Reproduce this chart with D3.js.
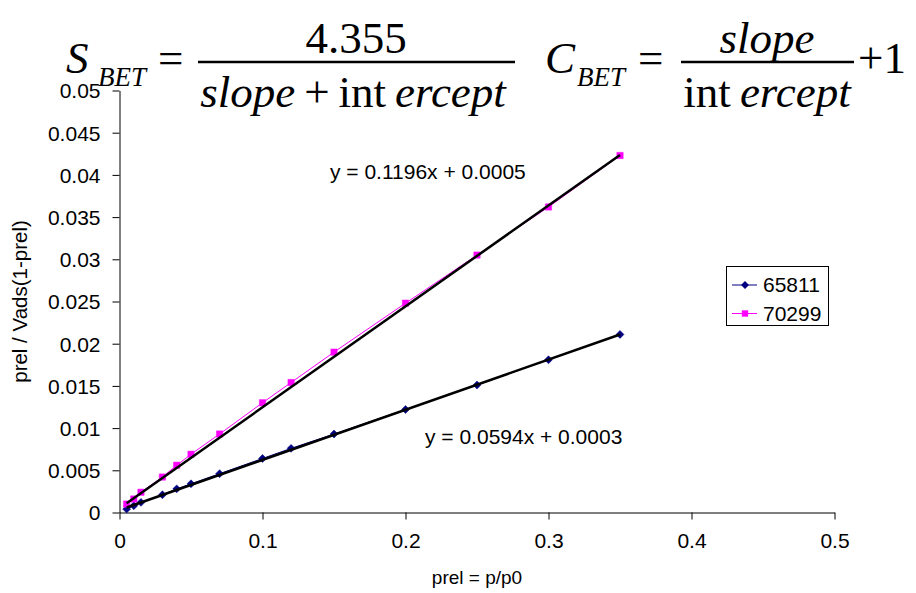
<!DOCTYPE html>
<html>
<head>
<meta charset="utf-8">
<script src="https://cdn.jsdelivr.net/npm/d3@7"></script>
<style>
  html, body { margin: 0; padding: 0; background: #fff; }
  svg { display: block; }
</style>
</head>
<body>
<svg id="chart" width="916" height="593"></svg>
<script>
// ---- data ----
const seriesNames = ["65811", "70299"];
const xValues = [0.005, 0.01, 0.015, 0.03, 0.04, 0.05, 0.07, 0.1, 0.12, 0.15, 0.2, 0.25, 0.3, 0.35];
const values65811 = [0.0004, 0.0008, 0.0012, 0.0021, 0.0028, 0.0034, 0.0046, 0.0064, 0.0076, 0.0093, 0.0122, 0.0151, 0.0181, 0.0211];
const values70299 = [0.0010, 0.0016, 0.0024, 0.0042, 0.0056, 0.0069, 0.0093, 0.0130, 0.0154, 0.0190, 0.0248, 0.0305, 0.0362, 0.0423];
const trendSlopes = [0.0594, 0.1196];
const trendIntercepts = [0.0003, 0.0005];
const trendLabels = ["y = 0.0594x + 0.0003", "y = 0.1196x + 0.0005"];
const xTickValues = [0, 0.1, 0.2, 0.3, 0.4, 0.5];
const xTickLabels = ["0", "0.1", "0.2", "0.3", "0.4", "0.5"];
const yTickValues = [0, 0.005, 0.01, 0.015, 0.02, 0.025, 0.03, 0.035, 0.04, 0.045, 0.05];
const yTickLabels = ["0", "0.005", "0.01", "0.015", "0.02", "0.025", "0.03", "0.035", "0.04", "0.045", "0.05"];
const seriesColors = ["#000080", "#FF00FF"];
const xTitle = "prel = p/p0";
const yTitle = "prel / Vads(1-prel)";

// ---- layout ----
const svg = d3.select("#chart");
const sans = "'Liberation Sans', Arial, sans-serif";
const serif = "'Liberation Serif', 'Times New Roman', serif";
const x = d3.scaleLinear().domain([0, 0.5]).range([119.5, 834.5]);
const y = d3.scaleLinear().domain([0, 0.05]).range([512.5, 90.5]);
const labelSize = 21;

// axes
const xAxis = d3.axisBottom(x).tickValues(xTickValues)
  .tickFormat((d, i) => xTickLabels[i]).tickSizeInner(7).tickSizeOuter(0).tickPadding(14);
const yAxis = d3.axisLeft(y).tickValues(yTickValues)
  .tickFormat((d, i) => yTickLabels[i]).tickSizeInner(7).tickSizeOuter(0).tickPadding(12);

const gx = svg.append("g").attr("transform", `translate(0,${y(0)})`).call(xAxis);
const gy = svg.append("g").attr("transform", `translate(${x(0)},0)`).call(yAxis);
[gx, gy].forEach(g => {
  g.select(".domain").attr("stroke", "#000").attr("stroke-width", 1);
  g.selectAll(".tick line").attr("stroke", "#000").attr("stroke-width", 1);
  g.selectAll(".tick text").attr("fill", "#000").attr("font-family", sans).attr("font-size", labelSize);
});
gx.selectAll(".tick text").attr("dy", "0.71em");
gy.selectAll(".tick text").attr("dy", "0.35em");

// axis titles
svg.append("text").attr("x", (x(0) + x(0.5)) / 2).attr("y", 584)
  .attr("text-anchor", "middle").attr("font-family", sans).attr("font-size", 19)
  .text(xTitle);
svg.append("text")
  .attr("transform", `translate(27,${(y(0) + y(0.05)) / 2}) rotate(-90)`)
  .attr("text-anchor", "middle").attr("font-family", sans).attr("font-size", 20.5)
  .text(yTitle);

// series
const seriesData = [values65811, values70299];
const lineGen = d3.line().x(d => x(d[0])).y(d => y(d[1]));
seriesData.forEach((vals, si) => {
  const pts = xValues.map((xv, i) => [xv, vals[i]]);
  svg.append("path").datum(pts).attr("d", lineGen)
    .attr("fill", "none").attr("stroke", seriesColors[si]).attr("stroke-width", 1);
});
// markers
const diamond = d3.symbol().type(d3.symbolDiamond2).size(40);
const square = d3.symbol().type(d3.symbolSquare).size(40);
seriesData.forEach((vals, si) => {
  svg.append("g").selectAll("path").data(xValues.map((xv, i) => [xv, vals[i]]))
    .join("path")
    .attr("transform", d => `translate(${x(d[0])},${y(d[1])})`)
    .attr("d", si === 0 ? diamond : square)
    .attr("fill", seriesColors[si]).attr("stroke", seriesColors[si]).attr("stroke-width", 0.5);
});
// trendlines
const xMin = d3.min(xValues), xMax = d3.max(xValues);
trendSlopes.forEach((m, i) => {
  const b = trendIntercepts[i];
  svg.append("line")
    .attr("x1", x(xMin)).attr("y1", y(m * xMin + b))
    .attr("x2", x(xMax)).attr("y2", y(m * xMax + b))
    .attr("stroke", "#000").attr("stroke-width", 2.5);
});
// trendline labels
svg.append("text").attr("x", 425).attr("y", 437).attr("dy", "0.35em").attr("font-family", sans).attr("font-size", labelSize)
  .text(trendLabels[0]);
svg.append("text").attr("x", 330).attr("y", 172).attr("dy", "0.35em").attr("font-family", sans).attr("font-size", labelSize)
  .text(trendLabels[1]);

// legend
const lg = svg.append("g");
lg.append("rect").attr("x", 726.5).attr("y", 266.5).attr("width", 102).attr("height", 59)
  .attr("fill", "#fff").attr("stroke", "#000").attr("stroke-width", 1);
seriesNames.forEach((name, i) => {
  const cy = 285 + i * 28.5;
  lg.append("line").attr("x1", 732).attr("x2", 757).attr("y1", cy).attr("y2", cy)
    .attr("stroke", seriesColors[i]).attr("stroke-width", 1);
  lg.append("path").attr("transform", `translate(745,${cy})`)
    .attr("d", i === 0 ? diamond : square).attr("fill", seriesColors[i]);
  lg.append("text").attr("x", 763).attr("y", cy).attr("dy", "0.35em")
    .attr("font-family", sans).attr("font-size", labelSize).text(name);
});

// formulas
const f = svg.append("g").attr("font-family", serif).attr("font-size", 45).attr("fill", "#000");
// S_BET
f.append("text").attr("x", 66).attr("y", 73).attr("font-style", "italic").text("S");
f.append("text").attr("x", 98).attr("y", 86).attr("font-style", "italic").attr("font-size", 27).text("BET");
f.append("text").attr("x", 158).attr("y", 73).text("=");
f.append("line").attr("x1", 198).attr("x2", 515).attr("y1", 62).attr("y2", 62)
  .attr("stroke", "#000").attr("stroke-width", 2.5);
f.append("text").attr("x", 356).attr("y", 53).attr("text-anchor", "middle").text("4.355");
const den = f.append("text").attr("x", 353).attr("y", 107).attr("text-anchor", "middle");
den.append("tspan").attr("font-style", "italic").text("slope");
den.append("tspan").text("\u2009+\u2009int\u2009");
den.append("tspan").attr("font-style", "italic").text("ercept");
// C_BET
f.append("text").attr("x", 545).attr("y", 73).attr("font-style", "italic").text("C");
f.append("text").attr("x", 577).attr("y", 86).attr("font-style", "italic").attr("font-size", 27).text("BET");
f.append("text").attr("x", 638).attr("y", 73).text("=");
f.append("line").attr("x1", 681).attr("x2", 854).attr("y1", 62).attr("y2", 62)
  .attr("stroke", "#000").attr("stroke-width", 2.5);
f.append("text").attr("x", 767).attr("y", 53).attr("text-anchor", "middle").attr("font-style", "italic").text("slope");
const den2 = f.append("text").attr("x", 767).attr("y", 107).attr("text-anchor", "middle");
den2.append("tspan").text("int\u2009");
den2.append("tspan").attr("font-style", "italic").text("ercept");
f.append("text").attr("x", 858).attr("y", 73).text("+1");
</script>
</body>
</html>
